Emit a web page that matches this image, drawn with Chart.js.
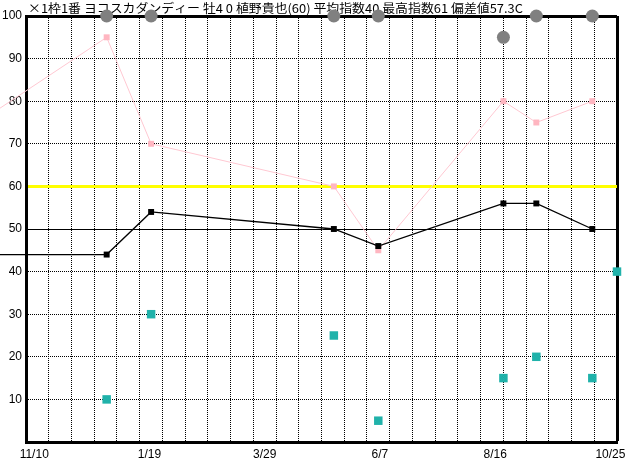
<!DOCTYPE html>
<html><head><meta charset="utf-8">
<script src="https://cdn.jsdelivr.net/npm/chart.js@4/dist/chart.umd.min.js"></script>
<style>html,body{margin:0;padding:0;background:#fff;}canvas{display:block;}</style>
</head><body>
<canvas id="c" width="632" height="460"></canvas>
<script>
// ---- data ----
const titleText = '×1枠1番 ヨコスカダンディー 牡4 0 植野貴也(60) 平均指数40 最高指数61 偏差値57.3C';
const dateTickDays = [0, 70, 140, 210, 280, 350];
const dateTickLabels = ['11/10', '1/19', '3/29', '6/7', '8/16', '10/25'];
const raceDays = [-30, 44, 71, 182, 209, 285, 305, 339, 354];
const indexLine = [44, 44, 54, 50, 46, 56, 56, 50, null];
const pinkLine = [76, 95, 70, 60, 45, 80, 75, 80, null];
const tealMarks = [null, 10, 30, 25, 5, 15, 20, 15, 40];
const grayMarks = [null, 100, 100, 100, 100, 95, 100, 100, null];
const xMin = -5, xMax = 354, gridColumns = 26;
const yMin = 0, yMax = 100, yStep = 10;
const solidLineValue = 50, yellowLineValue = 60;

// ---- helpers ----
function pts(vals) {
  const out = [];
  vals.forEach((v, i) => { if (v !== null) out.push({x: raceDays[i], y: v}); });
  return out;
}
const gridTickValues = [];
for (let k = 0; k <= gridColumns; k++) gridTickValues.push(xMin + k * (xMax - xMin) / gridColumns);
const labelMap = new Map(dateTickDays.map((d, i) => [d, dateTickLabels[i]]));

const titlePlugin = {
  id: 'topTitle',
  beforeDatasetsDraw(chart) {
    const ctx = chart.ctx;
    ctx.save();
    ctx.font = '12px "Noto Sans CJK JP", sans-serif';
    ctx.fillStyle = '#000';
    ctx.textBaseline = 'alphabetic';
    ctx.textAlign = 'left';
    const w = ctx.measureText(titleText).width;
    const targetW = 495;
    ctx.translate(28, 13);
    ctx.scale(targetW / w, 1);
    ctx.fillText(titleText, 0, 0);
    ctx.restore();
  }
};

new Chart(document.getElementById('c'), {
  type: 'line',
  data: {
    datasets: [
      {
        data: pts(indexLine), borderColor: '#000', backgroundColor: '#000', borderWidth: 1.3,
        pointStyle: 'rect', pointRadius: 4.2, pointBorderWidth: 0, tension: 0, clip: false
      },
      {
        data: pts(grayMarks), showLine: false, backgroundColor: '#808080', borderColor: '#808080',
        pointStyle: 'circle', pointRadius: 6.5, pointBorderWidth: 0, clip: false
      },
      {
        data: pts(pinkLine), borderColor: '#ffc8d2', backgroundColor: '#ffb6c1', borderWidth: 1,
        pointStyle: 'rect', pointRadius: 4.2, pointBorderWidth: 0, tension: 0, clip: false
      },
      {
        data: pts(tealMarks), showLine: false, backgroundColor: '#20b2aa', borderColor: '#20b2aa',
        pointStyle: 'rect', pointRadius: 6, pointBorderWidth: 0, clip: false
      }
    ]
  },
  options: {
    responsive: false, animation: false, devicePixelRatio: 1,
    layout: {padding: {top: 16, right: 15, left: 0, bottom: 0}},
    plugins: {legend: {display: false}, title: {display: false}, tooltip: {enabled: false}},
    events: [],
    scales: {
      x: {
        type: 'linear', min: xMin, max: xMax,
        afterBuildTicks(scale) {
          const vals = gridTickValues.concat(dateTickDays).sort((a, b) => a - b);
          scale.ticks = vals.map(v => ({value: v}));
        },
        afterFit(scale) { scale.height = 18; },
        ticks: {
          autoSkip: false, maxRotation: 0, minRotation: 0, padding: 5,
          color: '#000', font: {family: '"Liberation Sans", Arial, sans-serif', size: 12},
          callback: (v) => labelMap.has(v) ? labelMap.get(v) : ''
        },
        grid: {
          drawTicks: false,
          color: (c) => (c.tick && labelMap.has(c.tick.value)) ? 'rgba(0,0,0,0)' : '#000',
          lineWidth: (c) => (c.tick && c.tick.value === xMax) ? 3 : 1
        },
        border: {
          display: true, color: '#000', width: 3,
          dash: (c) => (!c.tick || c.tick.value === xMax) ? [] : [1, 1]
        }
      },
      y: {
        type: 'linear', min: yMin, max: yMax,
        afterFit(scale) { scale.width = 26; },
        ticks: {
          stepSize: yStep, padding: 4, color: '#000',
          font: {family: '"Liberation Sans", Arial, sans-serif', size: 12},
          callback: (v) => v === yMin ? '' : String(v)
        },
        grid: {
          drawTicks: false,
          color: (c) => (c.tick && c.tick.value === yellowLineValue) ? '#ffff00' : '#000',
          lineWidth: (c) => (c.tick && (c.tick.value === yellowLineValue || c.tick.value === yMax)) ? 3 : 1
        },
        border: {
          display: true, color: '#000', width: 3,
          dash: (c) => (!c.tick || [solidLineValue, yellowLineValue, yMax].includes(c.tick.value)) ? [] : [1, 1]
        }
      }
    }
  },
  plugins: [titlePlugin]
});
</script>
</body></html>
